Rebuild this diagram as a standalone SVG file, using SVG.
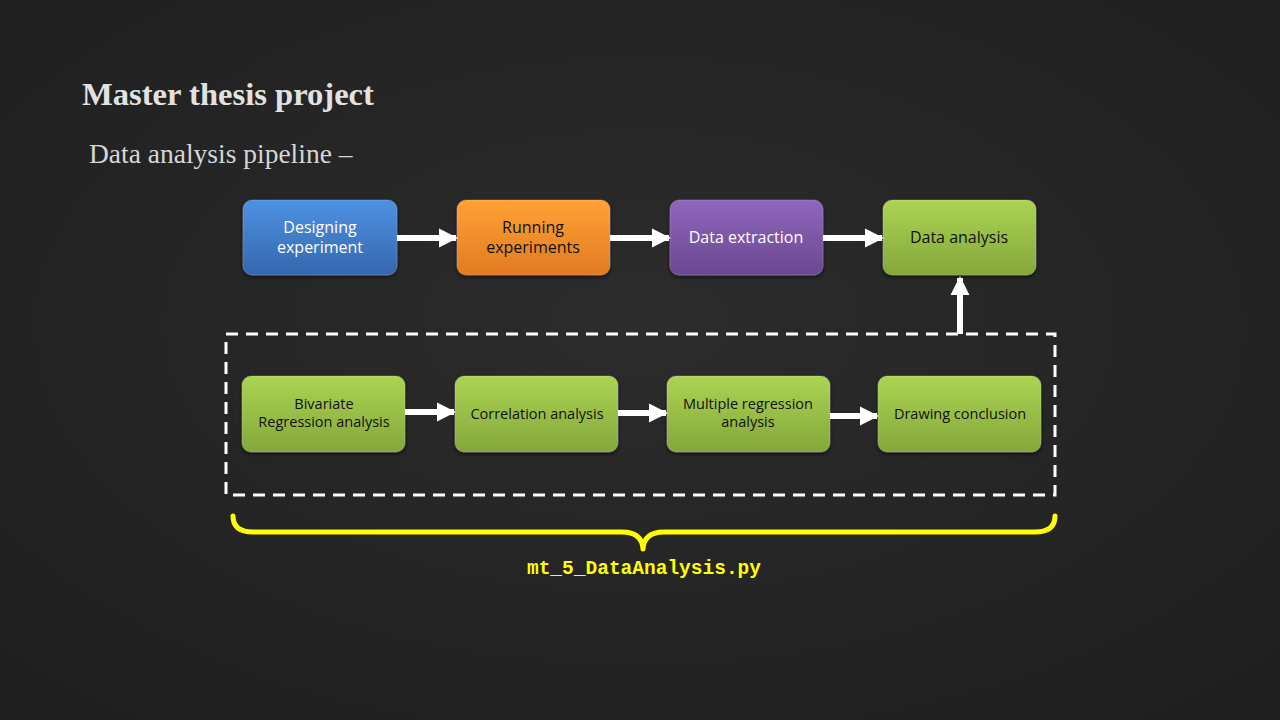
<svg xmlns="http://www.w3.org/2000/svg" width="1280" height="720" viewBox="0 0 1280 720">
<defs>
<radialGradient id="bg" cx="0.5" cy="0.45" r="0.75">
<stop offset="0" stop-color="#2c2c2c"/>
<stop offset="1" stop-color="#1e1e1e"/>
</radialGradient>
<linearGradient id="gBlue" x1="0" y1="0" x2="0" y2="1">
<stop offset="0" stop-color="#4d92e2"/><stop offset="1" stop-color="#3566ae"/>
</linearGradient>
<linearGradient id="gOrange" x1="0" y1="0" x2="0" y2="1">
<stop offset="0" stop-color="#ffa236"/><stop offset="1" stop-color="#e27a22"/>
</linearGradient>
<linearGradient id="gPurple" x1="0" y1="0" x2="0" y2="1">
<stop offset="0" stop-color="#9166bd"/><stop offset="1" stop-color="#6a4890"/>
</linearGradient>
<linearGradient id="gGreen" x1="0" y1="0" x2="0" y2="1">
<stop offset="0" stop-color="#abd453"/><stop offset="1" stop-color="#84a73b"/>
</linearGradient>
<filter id="sh" x="-10%" y="-10%" width="120%" height="130%">
<feDropShadow dx="0" dy="2" stdDeviation="2" flood-color="#000" flood-opacity="0.6"/>
</filter>
<marker id="ah" viewBox="0 0 10 10" refX="9" refY="5" markerWidth="3.2" markerHeight="3.4" markerUnits="strokeWidth" orient="auto">
<path d="M0,0 L10,5 L0,10 Z" fill="#ffffff"/>
</marker>
<style>
.box{filter:url(#sh);stroke:rgba(255,255,255,0.18);stroke-width:1;}
.lbl{font-family:"Open Sans","Noto Sans",sans-serif;font-size:16px;text-anchor:middle;}
.lbs{font-family:"Open Sans","Noto Sans",sans-serif;font-size:14.5px;text-anchor:middle;fill:#111;}
.w{fill:#ffffff;}
.k{fill:#111111;}
.conn{stroke:#ffffff;stroke-width:6;fill:none;marker-end:url(#ah);}
</style>
</defs>
<rect width="1280" height="720" fill="url(#bg)"/>

<text x="82" y="105" font-family="Liberation Serif, serif" font-weight="bold" font-size="32.6" fill="#e2e2e2">Master thesis project</text>
<text x="89" y="163" font-family="Liberation Serif, serif" font-size="27.5" fill="#d6d6d6">Data analysis pipeline –</text>

<g id="n1"><rect class="box" x="243" y="200" width="154" height="75" rx="9" fill="url(#gBlue)"/>
<text class="lbl w" x="320" y="233">Designing</text><text class="lbl w" x="320" y="253">experiment</text></g>
<g id="n2"><rect class="box" x="457" y="200" width="153" height="75" rx="9" fill="url(#gOrange)"/>
<text class="lbl k" x="533" y="233">Running</text><text class="lbl k" x="533" y="253">experiments</text></g>
<g id="n3"><rect class="box" x="670" y="200" width="153" height="75" rx="9" fill="url(#gPurple)"/>
<text class="lbl w" x="746" y="243">Data extraction</text></g>
<g id="n4"><rect class="box" x="883" y="200" width="153" height="75" rx="9" fill="url(#gGreen)"/>
<text class="lbl k" x="959" y="243">Data analysis</text></g>

<g id="group">
<rect x="226" y="334" width="829" height="161" fill="none" stroke="#ffffff" stroke-width="3" stroke-dasharray="12 8"/>
</g>

<g id="m1"><rect class="box" x="242" y="376" width="163" height="76" rx="9" fill="url(#gGreen)"/>
<text class="lbs" x="324" y="409">Bivariate</text><text class="lbs" x="324" y="427">Regression analysis</text></g>
<g id="m2"><rect class="box" x="455" y="376" width="163" height="76" rx="9" fill="url(#gGreen)"/>
<text class="lbs" x="537" y="419">Correlation analysis</text></g>
<g id="m3"><rect class="box" x="667" y="376" width="163" height="76" rx="9" fill="url(#gGreen)"/>
<text class="lbs" x="748" y="409">Multiple regression</text><text class="lbs" x="748" y="427">analysis</text></g>
<g id="m4"><rect class="box" x="878" y="376" width="163" height="76" rx="9" fill="url(#gGreen)"/>
<text class="lbs" x="960" y="419">Drawing conclusion</text></g>

<g id="connectors">
<line class="conn" x1="397" y1="238" x2="456" y2="238"/>
<line class="conn" x1="610" y1="238" x2="669" y2="238"/>
<line class="conn" x1="823" y1="238" x2="882" y2="238"/>
<line class="conn" x1="960" y1="334" x2="960" y2="278"/>
<line class="conn" x1="405" y1="412" x2="454" y2="412"/>
<line class="conn" x1="618" y1="413" x2="666" y2="413"/>
<line class="conn" x1="830" y1="416" x2="877" y2="416"/>
</g>

<g id="brace">
<path d="M233,516 Q233,532 253,532 L622,532 Q642,532 643,549 Q644,532 664,532 L1035,532 Q1055,532 1055,516" fill="none" stroke="#ffff00" stroke-width="5" stroke-linecap="round" stroke-linejoin="round"/>
<text x="644" y="574" font-family="Liberation Mono, monospace" font-weight="bold" font-size="19.5" fill="#ffff00" text-anchor="middle">mt_5_DataAnalysis.py</text>
</g>
</svg>
